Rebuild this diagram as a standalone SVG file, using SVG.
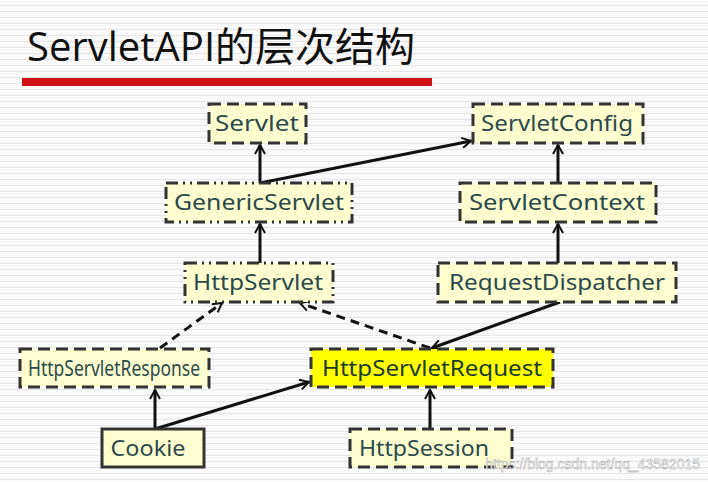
<svg xmlns="http://www.w3.org/2000/svg" width="708" height="482" viewBox="0 0 708 482">
<defs>
<pattern id="bg" width="8" height="6" patternUnits="userSpaceOnUse"><rect width="8" height="6" fill="#fafafa"/><rect y="5" width="8" height="1" fill="#e6e6e6"/></pattern>
<marker id="a" markerWidth="12" markerHeight="12" refX="10" refY="6" orient="auto" markerUnits="userSpaceOnUse"><path d="M1,1 L10,6 L1,11" fill="none" stroke="#111" stroke-width="2"/></marker>
<style>
.n{fill:#fdfdd0;stroke:#333;stroke-width:3;stroke-dasharray:12 6}
.dd{stroke-dasharray:12 5 2 5 2 5}
.t{font-family:"Noto Sans","DejaVu Sans",sans-serif;font-size:21px;fill:#2c4a4a}
.e{stroke:#111;stroke-width:3;fill:none;marker-end:url(#a)}
.d{stroke-dasharray:9 6}
</style>
</defs>
<rect width="708" height="482" fill="url(#bg)"/>
<text x="27" y="61" font-family="'Open Sans','Noto Sans CJK SC',sans-serif" font-size="40" fill="#111">ServletAPI的层次结构</text>
<rect x="22" y="78" width="410" height="8" fill="#d01010"/>
<g id="connectors">
<line class="e" x1="260" y1="183" x2="260" y2="145"/>
<line class="e" x1="260" y1="183" x2="471" y2="141"/>
<line class="e" x1="260" y1="263" x2="260" y2="224"/>
<line class="e" x1="558" y1="183" x2="558" y2="145"/>
<line class="e" x1="558" y1="263" x2="558" y2="224"/>
<line class="e d" x1="160" y1="348" x2="222" y2="303"/>
<line class="e d" x1="430" y1="348" x2="300" y2="303"/>
<line class="e" x1="560" y1="302" x2="432" y2="348"/>
<line class="e" x1="430" y1="429" x2="430" y2="390"/>
<line class="e" x1="155" y1="429" x2="155" y2="390"/>
<line class="e" x1="155" y1="429" x2="309" y2="382"/>
</g>
<g id="Servlet"><rect class="n" x="209" y="104" width="97" height="39"/><text class="t" x="257" y="131" text-anchor="middle" textLength="84" lengthAdjust="spacingAndGlyphs">Servlet</text></g>
<g id="GenericServlet"><rect class="n dd" x="166" y="183" width="186" height="39"/><text class="t" x="259" y="210" text-anchor="middle" textLength="170" lengthAdjust="spacingAndGlyphs">GenericServlet</text></g>
<g id="HttpServlet"><rect class="n dd" x="185" y="263" width="148" height="39"/><text class="t" x="258" y="290" text-anchor="middle" textLength="130" lengthAdjust="spacingAndGlyphs">HttpServlet</text></g>
<g id="ServletConfig"><rect class="n" x="473" y="104" width="170" height="39"/><text class="t" x="557" y="131" text-anchor="middle" textLength="152" lengthAdjust="spacingAndGlyphs">ServletConfig</text></g>
<g id="ServletContext"><rect class="n" x="460" y="183" width="196" height="39"/><text class="t" x="557" y="210" text-anchor="middle" textLength="176" lengthAdjust="spacingAndGlyphs">ServletContext</text></g>
<g id="RequestDispatcher"><rect class="n" x="438" y="263" width="238" height="39"/><text class="t" x="557" y="290" text-anchor="middle" textLength="216" lengthAdjust="spacingAndGlyphs">RequestDispatcher</text></g>
<g id="HttpServletResponse"><rect class="n" x="20" y="349" width="189" height="38"/><text class="t" x="114" y="376" text-anchor="middle" textLength="172" lengthAdjust="spacingAndGlyphs">HttpServletResponse</text></g>
<g id="HttpServletRequest"><rect class="n" x="311" y="349" width="242" height="38" style="fill:#ffff00"/><text class="t" x="432" y="376" text-anchor="middle" style="fill:#1c3a2a" textLength="220" lengthAdjust="spacingAndGlyphs">HttpServletRequest</text></g>
<g id="Cookie"><rect class="n" x="102" y="429" width="102" height="38" style="stroke-dasharray:none"/><text class="t" x="148" y="456" text-anchor="middle" textLength="75" lengthAdjust="spacingAndGlyphs">Cookie</text></g>
<g id="HttpSession"><rect class="n" x="350" y="429" width="162" height="38"/><text class="t" x="424" y="456" text-anchor="middle" textLength="130" lengthAdjust="spacingAndGlyphs">HttpSession</text></g>
<text x="700" y="469" text-anchor="end" font-family="'Liberation Sans',sans-serif" font-size="14" fill="#ffffff" stroke="#999" stroke-width="0.4">https://blog.csdn.net/qq_43582015</text>
</svg>
